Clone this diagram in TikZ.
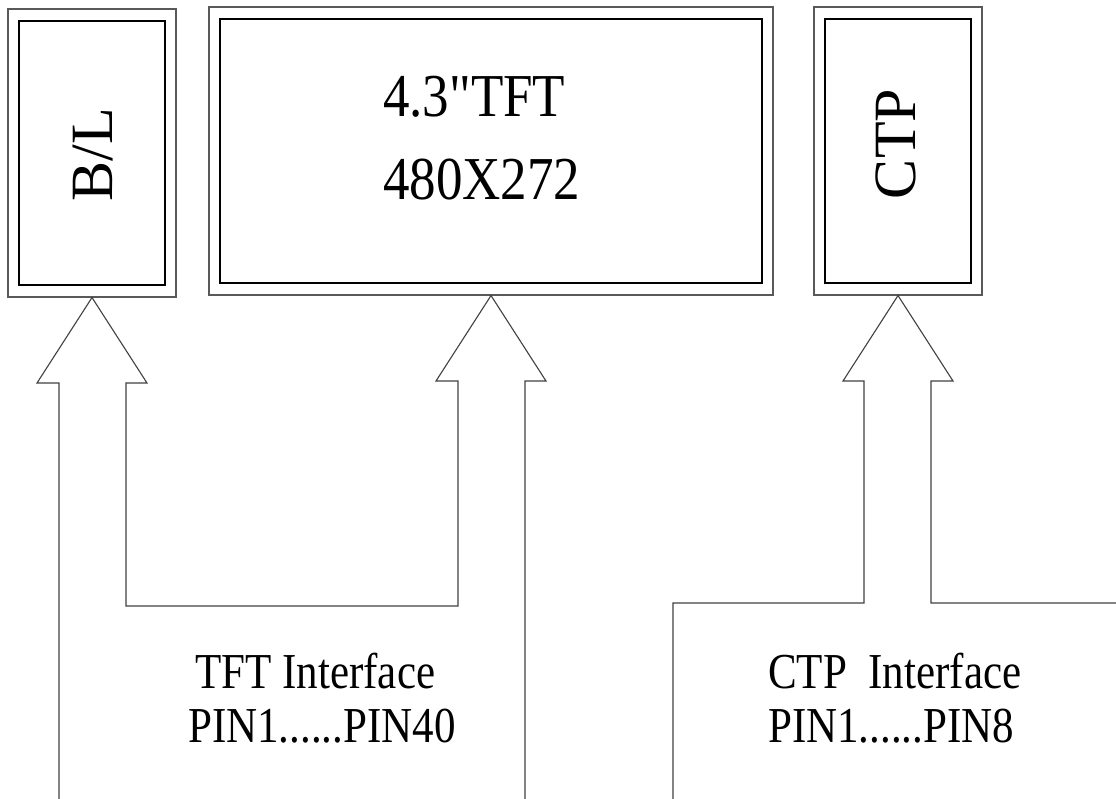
\documentclass[tikz,border=0pt]{standalone}
\usepackage{fontspec}
\setmainfont{Liberation Serif}
\newcommand{\mystretch}[2]{\scalebox{1}[#1]{#2}}
\newcommand{\straightquote}{\XeTeXglyph\XeTeXcharglyph"22\relax}
\tikzset{
  outerbox/.style={draw=black!65, line width=1.1pt, inner sep=0pt, minimum height=288pt},
  innerbox/.style={draw=black, line width=1.1pt, inner sep=0pt},
  arrowline/.style={draw=black!75, line width=1.1pt},
  bigtxt/.style={inner sep=0pt, font=\fontsize{53}{60}\selectfont},
  sidetxt/.style={inner sep=0pt, rotate=90, anchor=base, font=\fontsize{60}{66}\selectfont},
  pintxt/.style={inner sep=0pt, anchor=base west, font=\fontsize{43}{50}\selectfont}
}
\begin{document}
\begin{tikzpicture}[x=1pt, y=-1pt]
\useasboundingbox (0,0) rectangle (1116,799);

% boxes
\node[outerbox, minimum width=168pt] (blo) at (92,153) {};
\node[innerbox, minimum width=146pt, minimum height=264pt] (bli) at (92,153) {};
\node[outerbox, minimum width=564pt] (tfto) at (491,151) {};
\node[innerbox, minimum width=542pt, minimum height=264pt] (tfti) at (491,151) {};
\node[outerbox, minimum width=168pt] (ctpo) at (898,151) {};
\node[innerbox, minimum width=146pt, minimum height=264pt] (ctpi) at (898,151) {};

% box texts
\node[sidetxt] (bltxt) at (112,155) {B/L};
\node[sidetxt] (ctptxt) at (915,144) {CTP};
\node[bigtxt, anchor=base west] (tfta) at (383,117) {\mystretch{1.15}{4.3\straightquote TFT}};
\node[bigtxt, anchor=base west] (tftb) at (383,200) {\mystretch{1.15}{480X272}};

% free ends of the connectors
\coordinate (e1) at (59,799);
\coordinate (e2) at (525,799);
\coordinate (e3) at (673,799);
\coordinate (e4) at (1116,603);

% TFT / backlight fat arrows
\draw[arrowline] (e1) -- (59,383) -- (37,383) -- (blo.south) -- (147,383) -- (126,383)
  -- (126,606) -- (458,606) -- (458,381) -- (436,381) -- (tfto.south) -- (546,381)
  -- (525,381) -- (e2);

% CTP fat arrow
\draw[arrowline] (e3) -- (673,603) -- (864,603) -- (864,381) -- (843,381) -- (ctpo.south)
  -- (953,381) -- (931,381) -- (931,603) -- (e4);

% interface labels
\node[pintxt] (tfti1) at (195,688) {\mystretch{1.17}{TFT Interface}};
\node[pintxt] (tfti2) at (188,742) {\mystretch{1.17}{PIN1......PIN40}};
\node[pintxt] (ctpi1) at (768,688) {\mystretch{1.17}{CTP\ \ Interface}};
\node[pintxt] (ctpi2) at (768,742) {\mystretch{1.17}{PIN1......PIN8}};
\end{tikzpicture}
\end{document}
